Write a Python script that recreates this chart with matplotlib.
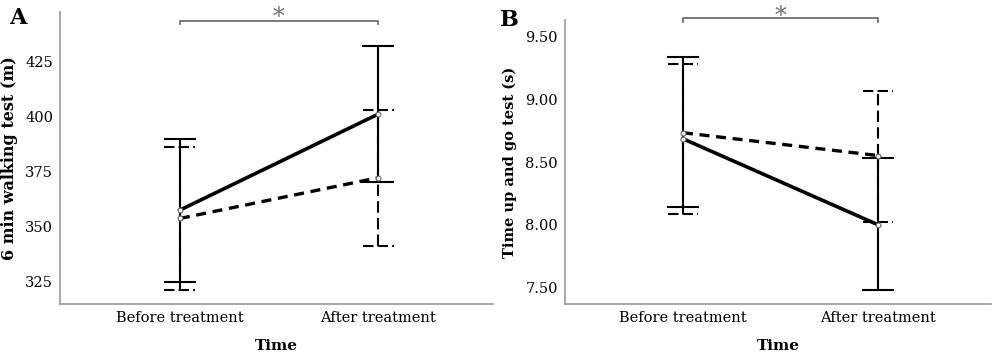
import matplotlib
matplotlib.use('Agg')
import matplotlib.pyplot as plt
import numpy as np

# Datos (media y extremos de la barra de error)
categorias = ['Before treatment', 'After treatment']

# Panel A: 6 min walking test (m)
a_solid_mean = [357.6, 401.2]
a_solid_low = [325.0, 370.5]
a_solid_up = [389.9, 432.1]
a_dash_mean = [353.8, 372.3]
a_dash_low = [321.2, 341.2]
a_dash_up = [386.1, 403.0]

# Panel B: Time up and go test (s)
b_solid_mean = [8.686, 8.00]
b_solid_low = [8.138, 7.48]
b_solid_up = [9.338, 8.53]
b_dash_mean = [8.734, 8.552]
b_dash_low = [8.086, 8.02]
b_dash_up = [9.286, 9.066]

plt.rcParams['font.family'] = ['DejaVu Serif']

fig = plt.figure(figsize=(10, 3.54), dpi=100)
axA = fig.add_axes([0.060, 0.141, 0.433, 0.825])
axB = fig.add_axes([0.565, 0.141, 0.426, 0.802])

gris = '#707070'
capw = 0.078


def panel(ax, s_mean, s_low, s_up, d_mean, d_low, d_up, ylim, yticks, fmt, ylabel, lab_x, lab_fs):
    x = np.arange(len(categorias))
    # serie discontinua (debajo)
    ax.vlines(x, d_low, d_up, colors='black', lw=1.5, linestyles=(0, (5.5, 2.5)), zorder=2)
    ax.hlines(d_low, x - capw, x + capw, colors='black', lw=1.5, linestyles=(0, (5, 2)), zorder=2)
    ax.hlines(d_up, x - capw, x + capw, colors='black', lw=1.5, linestyles=(0, (5, 2)), zorder=2)
    ax.plot(x, d_mean, color='black', lw=2.4, linestyle=(0, (3, 2)), zorder=3)
    # serie continua
    s_mean = np.array(s_mean)
    yerr = [s_mean - np.array(s_low), np.array(s_up) - s_mean]
    ax.errorbar(x, s_mean, yerr=yerr, fmt='none', ecolor='black', elinewidth=1.5,
                capsize=11.5, capthick=1.5, zorder=4)
    ax.plot(x, s_mean, color='black', lw=2.6, zorder=5)
    # marcadores
    ax.plot(x, s_mean, 'o', ms=3.5, mfc='white', mec='#666666', mew=0.8, zorder=6)
    ax.plot(x, d_mean, 'o', ms=3.5, mfc='white', mec='#666666', mew=0.8, zorder=6)

    ax.set_xlim(-0.605, 1.58)
    ax.set_ylim(*ylim)
    ax.set_yticks(yticks)
    ax.set_yticklabels([fmt.format(v) for v in yticks])
    ax.set_xticks(x)
    ax.set_xticklabels(categorias)
    ax.tick_params(axis='both', length=0, labelsize=10.5, pad=5)
    for s in ['top', 'right']:
        ax.spines[s].set_visible(False)
    for s in ['left', 'bottom']:
        ax.spines[s].set_color('#999999')
        ax.spines[s].set_linewidth(1.2)
    ax.set_xlabel('Time', fontweight='bold', fontsize=11, labelpad=10)
    ax.set_ylabel(ylabel, fontweight='bold', fontsize=lab_fs)
    ax.yaxis.set_label_coords(lab_x, 0.5)


panel(axA, a_solid_mean, a_solid_low, a_solid_up, a_dash_mean, a_dash_low, a_dash_up,
      (314.9, 447.6), [325, 350, 375, 400, 425], '{:.0f}', '6 min walking test (m)', -0.097, 11.5)
panel(axB, b_solid_mean, b_solid_low, b_solid_up, b_dash_mean, b_dash_low, b_dash_up,
      (7.367, 9.632), [7.5, 8.0, 8.5, 9.0, 9.5], '{:.2f}', 'Time up and go test (s)', -0.113, 10.5)

# Corchetes de significancia
for ax, yl, yt, ya in [(axA, 0.970, 0.958, 0.982), (axB, 1.006, 0.994, 1.013)]:
    tr = ax.get_xaxis_transform()
    ax.plot([0, 0, 1, 1], [yt, yl, yl, yt], color=gris, lw=1.3, transform=tr, clip_on=False)
    ax.text(0.5, ya, '*', color=gris, fontsize=17, ha='center', va='center',
            transform=tr, clip_on=False)

fig.text(0.018, 0.949, 'A', fontsize=16, fontweight='bold', ha='center', va='center')
fig.text(0.509, 0.944, 'B', fontsize=16, fontweight='bold', ha='center', va='center')

fig.savefig('out.png', dpi=100)
